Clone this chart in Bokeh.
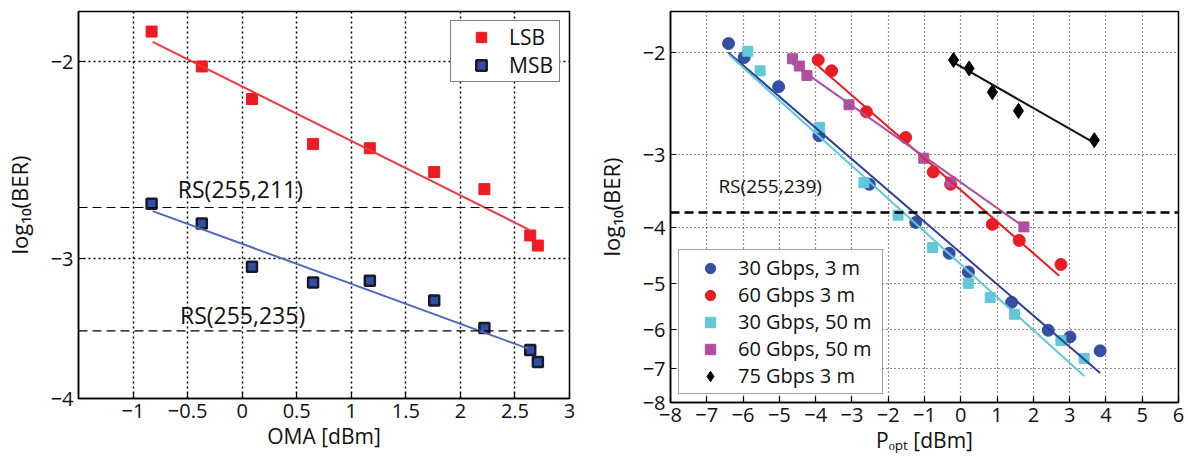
import numpy as np
from bokeh.plotting import figure
from bokeh.models import (Range1d, FixedTicker, CustomJSTickFormatter, Legend,
                          LegendItem, Span)
from bokeh.layouts import row
from bokeh.embed import file_html
from bokeh.resources import INLINE
from bokeh.core.properties import value

FONT = "Open Sans"

# ---------------- Left panel data (OMA vs log10(BER)) ----------------
oma_lsb = [-0.83, -0.37, 0.09, 0.65, 1.17, 1.76, 2.22, 2.64, 2.71]
ber_lsb = [-1.88, -2.02, -2.16, -2.37, -2.39, -2.51, -2.60, -2.86, -2.92]
oma_msb = [-0.83, -0.37, 0.09, 0.65, 1.17, 1.76, 2.22, 2.64, 2.71]
ber_msb = [-2.68, -2.79, -3.05, -3.15, -3.14, -3.27, -3.46, -3.62, -3.71]
lsb_fit_x = [-0.82, 2.64]
lsb_fit_y = [-1.92, -2.83]
msb_fit_x = [-0.82, 2.62]
msb_fit_y = [-2.72, -3.61]
rs_left_levels = [-2.70, -3.48]
rs_left_labels = ["RS(255,211)", "RS(255,235)"]
left_xticks = [-1, -0.5, 0, 0.5, 1, 1.5, 2, 2.5, 3]
left_yticks = [-2, -3, -4]

# ---------------- Right panel data (Popt vs log10(BER)) ----------------
p30_3m = [-6.40, -5.97, -5.02, -3.91, -2.52, -1.24, -0.32, 0.21, 1.40, 2.41, 3.01, 3.84]
b30_3m = [-1.93, -2.04, -2.29, -2.78, -3.37, -3.92, -4.43, -4.77, -5.38, -6.01, -6.17, -6.52]
p60_3m = [-3.93, -3.56, -2.60, -1.52, -0.76, -0.28, 0.87, 1.61, 2.76]
b60_3m = [-2.06, -2.15, -2.53, -2.80, -3.21, -3.37, -3.95, -4.21, -4.63]
p30_50m = [-5.87, -5.53, -3.89, -2.67, -1.73, -0.78, 0.21, 0.81, 1.48, 2.76, 3.40]
b30_50m = [-1.99, -2.15, -2.69, -3.35, -3.81, -4.33, -4.99, -5.28, -5.64, -6.26, -6.72]
p60_50m = [-4.64, -4.45, -4.24, -3.08, -1.02, -0.28, 1.74]
b60_50m = [-2.05, -2.11, -2.19, -2.46, -3.04, -3.34, -3.99]
p75_3m = [-0.20, 0.23, 0.87, 1.59, 3.68]
b75_3m = [-2.06, -2.13, -2.34, -2.52, -2.83]

fit30_3m_x, fit30_3m_y = [-6.41, 3.84], [-2.00, -7.12]
fit60_3m_x, fit60_3m_y = [-3.93, 2.71], [-2.11, -4.84]
fit30_50m_x, fit30_50m_y = [-6.38, 3.40], [-2.02, -7.20]
fit60_50m_x, fit60_50m_y = [-4.64, 1.74], [-2.09, -3.99]
fit75_3m_x, fit75_3m_y = [-0.20, 3.68], [-2.08, -2.86]

rs_right_level = -3.77
rs_right_label = "RS(255,239)"
right_xticks = list(range(-8, 7))
right_yticks = [-2, -3, -4, -5, -6, -7, -8]


def neg(a):
    return list(-np.asarray(a, dtype=float))


def xfmt():
    return CustomJSTickFormatter(code="return (tick < 0 ? '\u2212' : '') + Math.abs(tick).toString();")


def yfmt():
    return CustomJSTickFormatter(code="return '\u2212' + Math.round(tick).toString();")


def style(p, xticks, yticks, xlabel, grid_dash, grid_w, grid_color):
    p.background_fill_color = "white"
    p.border_fill_color = "white"
    p.outline_line_color = "black"
    p.outline_line_width = 1.5
    p.outline_line_alpha = 1.0
    p.xaxis.ticker = FixedTicker(ticks=xticks)
    p.yaxis.ticker = FixedTicker(ticks=yticks)
    p.xaxis.formatter = xfmt()
    p.yaxis.formatter = yfmt()
    for ax in (p.xaxis, p.yaxis):
        ax.major_tick_in = 6
        ax.major_tick_out = 0
        ax.minor_tick_line_color = None
        ax.axis_line_color = "black"
        ax.axis_line_width = 1.5
        ax.major_tick_line_color = "black"
        ax.major_tick_line_width = 1.2
        ax.major_label_text_font = FONT
        ax.major_label_text_font_size = "20px"
        ax.major_label_text_color = "#111111"
        ax.axis_label_text_font = FONT
        ax.axis_label_text_font_size = "21px"
        ax.axis_label_text_font_style = "normal"
        ax.axis_label_text_color = "#111111"
    p.xaxis.major_label_standoff = 5
    p.yaxis.major_label_standoff = 5
    p.xaxis.axis_label = xlabel
    p.xaxis.axis_label_standoff = 1
    p.yaxis.axis_label = "log\u2081\u2080(BER)"
    p.yaxis.axis_label_text_font_size = "22px"
    p.yaxis.axis_label_standoff = 14
    for g in (p.xgrid, p.ygrid):
        g.grid_line_color = grid_color
        g.grid_line_dash = grid_dash
        g.grid_line_width = grid_w


# ---------------- Left figure ----------------
p1 = figure(frame_width=491, frame_height=387,
            x_range=Range1d(-1.5, 3), y_range=Range1d(4.0, 1.804),
            y_axis_type="log", output_backend="svg", toolbar_location=None,
            min_border_left=76, min_border_right=13, min_border_top=11, min_border_bottom=61)
style(p1, left_xticks, neg(left_yticks), "OMA [dBm]", "2 3", 1.5, "black")

for lvl in rs_left_levels:
    p1.add_layout(Span(location=-lvl, dimension="width", line_color="black",
                       line_dash="9 5", line_width=1.2))
p1.text(x=[-0.59, -0.57], y=[2.60, 3.37], text=rs_left_labels,
        text_font=value(FONT), text_font_size="23px", text_color="#111111",
        text_baseline="alphabetic", text_align="left")

r_lsb = p1.scatter(oma_lsb, neg(ber_lsb), marker="square", size=11,
                   fill_color="#ED1C24", line_color="#ED1C24")
r_msb = p1.scatter(oma_msb, neg(ber_msb), marker="square", size=10,
                   fill_color="#2F4EA6", line_color="#1A1A26", line_width=2.5)
p1.line(lsb_fit_x, neg(lsb_fit_y), line_color="#EE3A3A", line_width=2)
p1.line(msb_fit_x, neg(msb_fit_y), line_color="#5468B8", line_width=2)

leg1 = Legend(items=[LegendItem(label="LSB", renderers=[r_lsb]),
                     LegendItem(label="MSB", renderers=[r_msb])],
              location="top_right", margin=9, padding=2, spacing=0,
              glyph_width=56, glyph_height=26, label_height=26,
              label_standoff=0, label_width=48,
              label_text_font=FONT, label_text_font_size="21px",
              label_text_color="#111111",
              border_line_color="black", border_line_width=1.5,
              background_fill_color="white", background_fill_alpha=1.0)
p1.add_layout(leg1)

# ---------------- Right figure ----------------
p2 = figure(frame_width=508, frame_height=391,
            x_range=Range1d(-8, 6), y_range=Range1d(8.0, 1.70),
            y_axis_type="log", output_backend="svg", toolbar_location=None,
            min_border_left=88, min_border_right=12, min_border_top=7, min_border_bottom=61)
style(p2, right_xticks, neg(right_yticks),
      "P\u2092\u209a\u209c [dBm]", "1 3", 1.2, "#222222")

p2.add_layout(Span(location=-rs_right_level, dimension="width", line_color="black",
                   line_dash="9 5", line_width=2.5))
p2.text(x=[-6.68], y=[3.40], text=[rs_right_label],
        text_font=value(FONT), text_font_size="19px", text_color="#111111",
        text_baseline="alphabetic", text_align="left")

c30_3 = "#3550A3"
c60_3 = "#EC1C24"
c30_50 = "#62C7D9"
c60_50 = "#B04E9F"
c75_3 = "#000000"

r1 = p2.scatter(p30_3m, neg(b30_3m), marker="circle", size=12, fill_color=c30_3, line_color=c30_3)
r2 = p2.scatter(p60_3m, neg(b60_3m), marker="circle", size=12, fill_color=c60_3, line_color=c60_3)
r3 = p2.scatter(p30_50m, neg(b30_50m), marker="square", size=10, fill_color=c30_50, line_color=c30_50)
r4 = p2.scatter(p60_50m, neg(b60_50m), marker="square", size=10, fill_color=c60_50, line_color=c60_50)
r5 = p2.scatter(p75_3m, neg(b75_3m), marker="diamond", size=15, fill_color=c75_3, line_color=c75_3)

p2.line(fit30_3m_x, neg(fit30_3m_y), line_color="#2E3F96", line_width=2)
p2.line(fit30_50m_x, neg(fit30_50m_y), line_color=c30_50, line_width=2)
p2.line(fit60_3m_x, neg(fit60_3m_y), line_color=c60_3, line_width=2)
p2.line(fit60_50m_x, neg(fit60_50m_y), line_color=c60_50, line_width=2)
p2.line(fit75_3m_x, neg(fit75_3m_y), line_color="#111111", line_width=2)

leg2 = Legend(items=[LegendItem(label="30 Gbps, 3 m", renderers=[r1]),
                     LegendItem(label="60 Gbps 3 m", renderers=[r2]),
                     LegendItem(label="30 Gbps, 50 m", renderers=[r3]),
                     LegendItem(label="60 Gbps, 50 m", renderers=[r4]),
                     LegendItem(label="75 Gbps 3 m", renderers=[r5])],
              location="bottom_left", margin=8, padding=4, spacing=0,
              glyph_width=54, glyph_height=26, label_height=26,
              label_standoff=1, label_width=140,
              label_text_font=FONT, label_text_font_size="20px",
              label_text_color="#111111",
              border_line_color="#444444", border_line_width=1.5,
              background_fill_color="white", background_fill_alpha=1.0)
p2.add_layout(leg2)

layout = row(p1, p2)
open("out.html", "w").write(file_html(layout, INLINE))
